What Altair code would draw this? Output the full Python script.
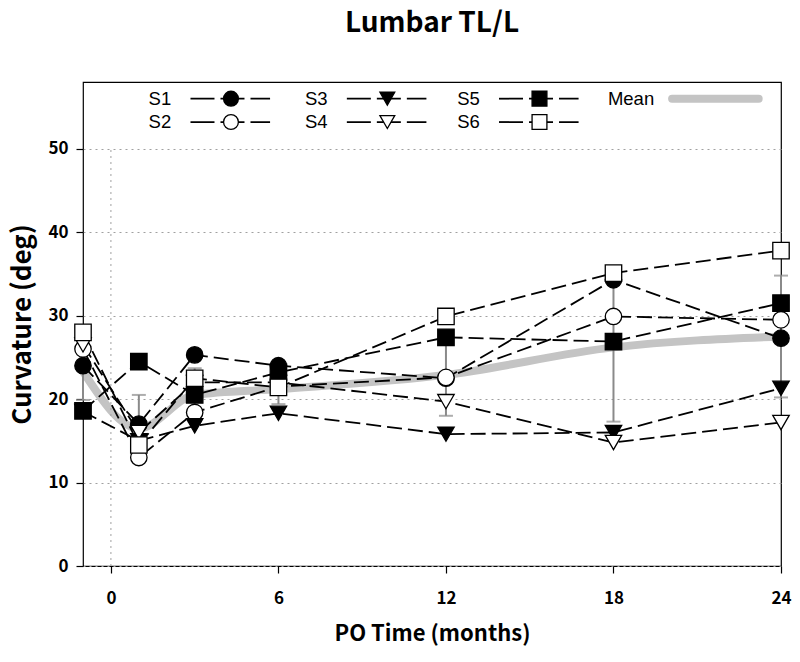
import altair as alt
import pandas as pd

# ---- data ----
months = [-1, 1, 3, 6, 12, 18, 24]
series_names = ["S1", "S2", "S3", "S4", "S5", "S6"]
s1 = [24.0, 17.0, 25.3, 24.0, 22.5, 34.3, 27.3]
s2 = [26.0, 13.0, 18.4, 21.5, 22.6, 29.9, 29.5]
s3 = [18.5, 15.0, 16.8, 18.3, 15.8, 16.0, 21.3]
s4 = [26.5, 16.0, 22.0, 22.0, 19.7, 14.8, 17.2]
s5 = [18.6, 24.5, 20.5, 23.2, 27.4, 26.9, 31.5]
s6 = [28.0, 14.5, 22.5, 21.4, 29.9, 35.1, 37.8]
mean_vals = [23.3, 16.5, 20.5, 21.2, 22.9, 26.2, 27.5]
sd_vals = [3.4, 4.0, 3.2, 1.8, 4.9, 8.9, 7.3]
x_ticks = [0, 6, 12, 18, 24]
y_ticks = [0, 10, 20, 30, 40, 50]
shapes = ["circle", "circle", "triangle-down", "triangle-down", "square", "square"]
fills = ["black", "white", "black", "white", "black", "white"]

FONT = "Noto Sans CJK KR"
LFONT = "Liberation Sans"

rows = []
for name, vals in zip(series_names, [s1, s2, s3, s4, s5, s6]):
    for m, v in zip(months, vals):
        rows.append({"series": name, "month": m, "value": v})
df = pd.DataFrame(rows)

mean_df = pd.DataFrame({
    "month": months,
    "value": mean_vals,
    "lo": [m - s for m, s in zip(mean_vals, sd_vals)],
    "hi": [m + s for m, s in zip(mean_vals, sd_vals)],
})

# legend layout (column start in months, row level in degrees)
col_start = [1.35, 6.95, 12.4]
row_level = [56.0, 53.2]
leg_rows = []
for i, name in enumerate(series_names):
    c, r = i // 2, i % 2
    x0 = col_start[c]
    leg_rows.append({"series": name, "label": name, "lx": x0, "ly": row_level[r],
                     "x1": x0 + 1.5, "x2": x0 + 4.35, "xm": x0 + 2.95})
leg_df = pd.DataFrame(leg_rows)
mean_leg = pd.DataFrame({"label": ["Mean"], "lx": [17.8], "ly": [row_level[0]],
                         "x1": [20.1], "x2": [23.2]})
ref_df = pd.DataFrame({"month": [0], "lo": [0], "hi": [50]})

xscale = alt.Scale(domain=[-1, 24], nice=False, zero=False)
yscale = alt.Scale(domain=[0, 58], nice=False, zero=False)
shape_scale = alt.Scale(domain=series_names, range=shapes)
fill_scale = alt.Scale(domain=series_names, range=fills)

x_axis = alt.Axis(values=x_ticks, title="PO Time (months)", grid=False, domain=False,
                  labelFlush=False,
                  tickColor="black", tickSize=7, tickWidth=1.2, labelPadding=17,
                  labelFont=FONT, labelFontSize=17, labelFontWeight="bold", labelColor="black",
                  titleFont=FONT, titleFontSize=22, titleFontWeight="bold", titleColor="black",
                  titlePadding=17)
y_axis = alt.Axis(values=y_ticks, title="Curvature (deg)", grid=True, gridDash=[2, 4],
                  gridColor="#a0a0a0", gridWidth=1, domain=False, labelFlush=False,
                  tickColor="black", tickSize=7, tickWidth=1.2, labelPadding=8,
                  labelFont=FONT, labelFontSize=17, labelFontWeight="bold", labelColor="black",
                  titleFont=FONT, titleFontSize=26, titleFontWeight="bold", titleColor="black",
                  titlePadding=12)


def X(field):
    return alt.X(field, scale=xscale, axis=x_axis)


def Y(field):
    return alt.Y(field, scale=yscale, axis=y_axis)


ref_line = alt.Chart(ref_df).mark_rule(color="#a0a0a0", strokeDash=[2, 4], strokeWidth=1).encode(
    x=X("month:Q"), y=Y("lo:Q"), y2="hi:Q")

mean_line = alt.Chart(mean_df).mark_line(color="#c4c4c4", strokeWidth=8, interpolate="monotone",
                                         strokeCap="round").encode(x=X("month:Q"), y=Y("value:Q"))

err_rule = alt.Chart(mean_df).mark_rule(color="#8a8a8a", strokeWidth=2).encode(
    x=X("month:Q"), y=Y("lo:Q"), y2="hi:Q")
err_lo = alt.Chart(mean_df).mark_tick(color="#8a8a8a", orient="horizontal", size=14, thickness=2).encode(
    x=X("month:Q"), y=Y("lo:Q"))
err_hi = alt.Chart(mean_df).mark_tick(color="#8a8a8a", orient="horizontal", size=14, thickness=2).encode(
    x=X("month:Q"), y=Y("hi:Q"))

lines = alt.Chart(df).mark_line(color="black", strokeWidth=1.8, strokeDash=[15, 6]).encode(
    x=X("month:Q"), y=Y("value:Q"), detail="series:N")

points = alt.Chart(df).mark_point(size=270, stroke="black", strokeWidth=1.3, opacity=1,
                                  filled=False).encode(
    x=X("month:Q"), y=Y("value:Q"),
    shape=alt.Shape("series:N", scale=shape_scale, legend=None),
    fill=alt.Fill("series:N", scale=fill_scale, legend=None),
    order=alt.Order("series:N"))

# legend
leg_text = alt.Chart(leg_df).mark_text(align="left", baseline="middle", font=LFONT, fontSize=18.5,
                                       color="black").encode(
    x=X("lx:Q"), y=Y("ly:Q"), text="label:N")
leg_lines = alt.Chart(leg_df).mark_rule(color="black", strokeWidth=1.8, strokeDash=[24, 6]).encode(
    x=X("x1:Q"), x2="x2:Q", y=Y("ly:Q"))
leg_pts = alt.Chart(leg_df).mark_point(size=220, stroke="black", strokeWidth=1.3, opacity=1).encode(
    x=X("xm:Q"), y=Y("ly:Q"),
    shape=alt.Shape("series:N", scale=shape_scale, legend=None),
    fill=alt.Fill("series:N", scale=fill_scale, legend=None))
mean_text = alt.Chart(mean_leg).mark_text(align="left", baseline="middle", font=LFONT, fontSize=18.5,
                                          color="black").encode(
    x=X("lx:Q"), y=Y("ly:Q"), text="label:N")
mean_sym = alt.Chart(mean_leg).mark_rule(color="#c4c4c4", strokeWidth=8, strokeCap="round").encode(
    x=X("x1:Q"), x2="x2:Q", y=Y("ly:Q"))

chart = alt.layer(
    mean_line, ref_line, err_rule, err_lo, err_hi, lines, points,
    leg_lines, leg_pts, leg_text, mean_text, mean_sym
).properties(
    width=698, height=484,
    autosize=alt.AutoSizeParams(type="none"),
    title=alt.Title("Lumbar TL/L", font=FONT, fontSize=28, fontWeight="bold", color="black",
                    anchor="middle", offset=44),
    padding={"left": 75, "top": 74, "right": 11, "bottom": 82},
).configure(background="white").configure_view(stroke="black", strokeWidth=1.2)

chart.save("out.html", embed_options={"renderer": "svg", "actions": False})
